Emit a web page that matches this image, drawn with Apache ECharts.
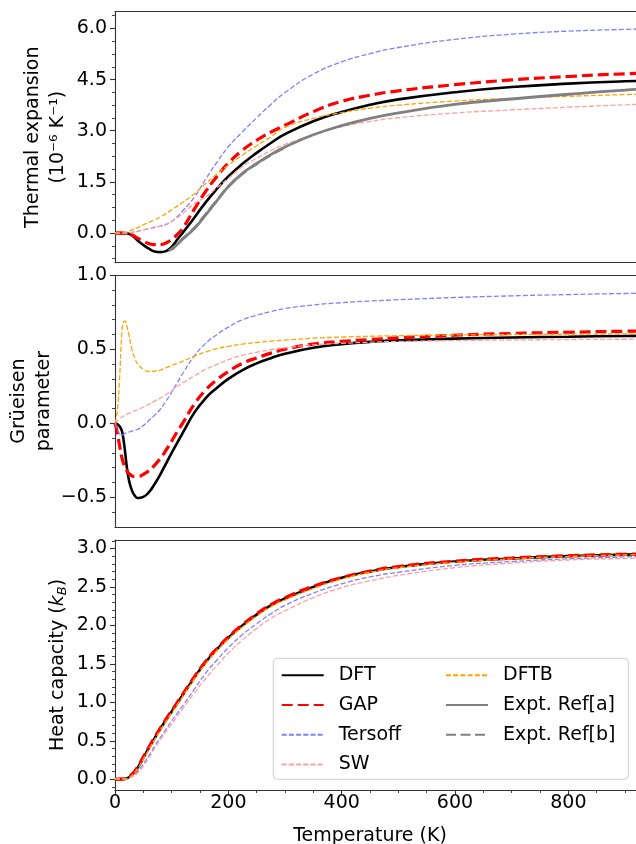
<!DOCTYPE html>
<html><head><meta charset="utf-8">
<script src="https://cdn.jsdelivr.net/npm/echarts@6/dist/echarts.min.js"></script>
<style>html,body{margin:0;padding:0;background:#fff}#c{width:636px;height:844px}</style>
</head><body><div id="c"></div>
<script>
// ---------- data ----------
const T_main = [0,10,20,30,40,50,60,70,80,90,100,110,120,140,160,180,200,225,250,275,300,350,400,450,500,600,700,800,900,1000];
const T_mid  = [0,4,8,12,15,18,21,25,30,35,40,50,60,70,80,90,100,110,120,140,160,180,200,225,250,275,300,350,400,450,500,600,700,800,900,1000];
const T_refA = [100,110,120,140,160,180,200,225,250,275,300,350,400,450,500,600,700,800,900,1000];
const T_refB = [95,100,110,120,140,160,180,200,225,250,275,300];

// thermal expansion (1e-6 / K)
const te_DFT     = [0,0,-0.005,-0.07,-0.22,-0.35,-0.46,-0.54,-0.56,-0.53,-0.41,-0.19,0.02,0.45,0.90,1.30,1.66,2.03,2.35,2.64,2.90,3.28,3.55,3.76,3.92,4.13,4.28,4.38,4.45,4.50];
const te_GAP     = [0,0,-0.01,-0.06,-0.15,-0.24,-0.31,-0.34,-0.34,-0.29,-0.19,-0.04,0.15,0.70,1.22,1.66,2.05,2.43,2.72,2.96,3.16,3.56,3.86,4.04,4.17,4.35,4.49,4.59,4.67,4.73];
const te_Tersoff = [0,0,0,0.02,0.05,0.10,0.13,0.17,0.20,0.25,0.34,0.48,0.66,1.05,1.58,2.08,2.53,2.97,3.38,3.77,4.12,4.66,5.02,5.26,5.44,5.68,5.83,5.92,5.97,6.00];
const te_SW      = [0,0,0,0.02,0.05,0.09,0.12,0.16,0.20,0.26,0.34,0.45,0.58,0.86,1.06,1.33,1.60,1.95,2.19,2.42,2.60,2.88,3.12,3.27,3.38,3.52,3.61,3.69,3.76,3.81];
const te_DFTB    = [0,0,0.03,0.09,0.16,0.24,0.31,0.39,0.47,0.57,0.68,0.79,0.90,1.15,1.45,1.73,1.99,2.29,2.56,2.82,3.10,3.36,3.53,3.66,3.75,3.87,3.95,4.01,4.06,4.10];
const te_RefA    = [-0.49,-0.33,-0.17,0.13,0.53,0.95,1.36,1.75,2.04,2.30,2.52,2.88,3.15,3.36,3.52,3.77,3.93,4.07,4.19,4.28];
const te_RefB    = [-0.52,-0.46,-0.32,-0.16,0.15,0.55,0.96,1.36,1.74,2.03,2.29,2.51];

// Grüneisen parameter
const gr_DFT     = [0,-0.005,-0.02,-0.05,-0.11,-0.2,-0.3,-0.39,-0.455,-0.49,-0.505,-0.497,-0.465,-0.41,-0.345,-0.272,-0.2,-0.13,-0.062,0.072,0.17,0.24,0.3,0.36,0.405,0.44,0.47,0.51,0.535,0.55,0.56,0.572,0.58,0.585,0.59,0.592];
const gr_GAP     = [0,-0.06,-0.15,-0.23,-0.27,-0.3,-0.32,-0.34,-0.355,-0.36,-0.36,-0.345,-0.32,-0.283,-0.237,-0.182,-0.12,-0.055,0.005,0.13,0.225,0.295,0.35,0.405,0.442,0.474,0.5,0.535,0.553,0.566,0.577,0.595,0.607,0.615,0.622,0.627];
const gr_Tersoff = [0,-0.04,-0.07,-0.08,-0.075,-0.068,-0.062,-0.058,-0.053,-0.047,-0.04,-0.015,0.02,0.055,0.095,0.15,0.21,0.275,0.34,0.455,0.54,0.6,0.65,0.7,0.73,0.755,0.775,0.8,0.815,0.826,0.835,0.85,0.861,0.87,0.877,0.882];
const gr_SW      = [0,0.015,0.03,0.04,0.048,0.055,0.062,0.068,0.077,0.085,0.092,0.11,0.13,0.15,0.17,0.195,0.22,0.25,0.275,0.32,0.365,0.398,0.43,0.46,0.48,0.497,0.51,0.53,0.54,0.548,0.553,0.559,0.563,0.566,0.568,0.57];
const gr_DFTB    = [0,0.08,0.3,0.6,0.685,0.69,0.655,0.59,0.5,0.44,0.4,0.365,0.35,0.352,0.36,0.375,0.39,0.405,0.42,0.452,0.482,0.505,0.52,0.535,0.546,0.555,0.562,0.575,0.583,0.588,0.592,0.597,0.6,0.602,0.604,0.605];

// heat capacity (k_B)
const cv_DFT     = [0,0.001,0.01,0.06,0.15,0.28,0.41,0.535,0.655,0.77,0.88,0.99,1.1,1.32,1.52,1.69,1.84,2.0,2.14,2.26,2.35,2.5,2.62,2.7,2.76,2.83,2.87,2.9,2.92,2.935];
const cv_GAP     = [0,0.001,0.012,0.065,0.16,0.29,0.42,0.545,0.665,0.78,0.89,1.0,1.11,1.33,1.53,1.7,1.85,2.01,2.15,2.27,2.36,2.51,2.62,2.705,2.765,2.835,2.875,2.905,2.925,2.94];
const cv_Tersoff = [0,0,0.005,0.04,0.1,0.2,0.31,0.43,0.54,0.65,0.76,0.86,0.96,1.17,1.38,1.55,1.71,1.88,2.02,2.15,2.26,2.42,2.54,2.63,2.69,2.78,2.83,2.865,2.89,2.91];
const cv_SW      = [0,0,0.004,0.03,0.08,0.17,0.28,0.4,0.51,0.62,0.72,0.82,0.92,1.12,1.31,1.48,1.64,1.81,1.96,2.09,2.19,2.36,2.49,2.58,2.65,2.75,2.81,2.85,2.87,2.89];
const cv_DFTB    = [0,0.001,0.008,0.05,0.14,0.26,0.39,0.515,0.635,0.75,0.86,0.97,1.08,1.3,1.5,1.67,1.82,1.98,2.12,2.24,2.33,2.48,2.6,2.69,2.75,2.82,2.865,2.895,2.915,2.93];

// ticks
const xTicks   = [0,200,400,600,800];
const yTicksTE = [0,1.5,3,4.5,6];
const yTicksGR = [-0.5,0,0.5,1.0];
const yTicksCV = [0,0.5,1,1.5,2,2.5,3];

// ---------- chart ----------
const FONT = 'DejaVu Sans';
const AX = '#333333';
const zip = (xs, ys) => xs.map((x, i) => [x, ys[i]]);
const minor = (lo, hi, step, majors) => {
  const out = [];
  for (let v = Math.ceil(lo / step - 1e-9) * step; v <= hi + 1e-9; v += step) {
    const r = Math.round(v * 1000) / 1000;
    if (!majors.some(m => Math.abs(m - r) < 1e-6)) out.push(r);
  }
  return out;
};
const fmt = v => (v < 0 ? '\u2212' : '') + Math.abs(v).toFixed(1);

const styles = {
  'DFT':          {color:'#000000', width:2.6, type:'solid'},
  'GAP':          {color:'#ff0000', width:3.2, type:[11,5]},
  'Tersoff':      {color:'#8080ff', width:1.3, type:[5,2.2]},
  'SW':           {color:'#ffa0a0', width:1.3, type:[5,2.2]},
  'DFTB':         {color:'#ffa500', width:1.3, type:[5,2.2]},
  'Expt. Ref[a]': {color:'#808080', width:2.8, type:'solid'},
  'Expt. Ref[b]': {color:'#808080', width:2.8, type:[10,4.5]}
};

const ranges = [[-0.87, 6.49], [-0.7, 1.0], [-0.14, 3.11]];
const majors = [yTicksTE, yTicksGR, yTicksCV];
const minors = [
  minor(-0.87, 6.49, 0.375, yTicksTE),
  minor(-0.69, 1.0, 0.1, yTicksGR),
  minor(-0.14, 3.11, 0.1, yTicksCV)
];
const names = ['Thermal expansion\n(10\u207B\u2076 K\u207B\u00B9)', 'Gr\u00FCeisen\nparameter', 'Heat capacity ({i|k}{s|B})'];
const nameGaps = [44, 58, 44];

// x scale: 0.5667 px per K; visible part ends at the canvas edge
const X_MAX = 919.4;
const grids = [
  {left:115, right:0, top:11.7, height:251},
  {left:115, right:0, top:275.3, height:251.6},
  {left:115, right:0, top:540, height:250}
].map(g => Object.assign(g, {show:false, containLabel:false, outerBoundsMode:'none'}));

const spine = {show:true, onZero:false, lineStyle:{color:AX, width:1.1}};
const xAxis = [0,1,2].map(i => ({
  type:'value', gridIndex:i, min:0, max:X_MAX, position:'bottom',
  axisLine:spine,
  splitLine:{show:false},
  axisTick: i === 2 ? {show:true, length:5, customValues:xTicks, lineStyle:{color:AX, width:1.1}} : {show:false},
  axisLabel: i === 2 ? {show:true, fontSize:19, fontFamily:FONT, color:'#000', margin:4, customValues:xTicks} : {show:false}
}));
// minor x ticks on the bottom panel
xAxis.push({
  type:'value', gridIndex:2, min:0, max:X_MAX, interval:50, position:'bottom',
  axisLine:{show:false, onZero:false}, splitLine:{show:false}, axisLabel:{show:false},
  axisTick:{show:true, length:3, lineStyle:{color:AX, width:0.9}}
});
// top spines
[0,1,2].forEach(i => xAxis.push({
  type:'value', gridIndex:i, min:0, max:X_MAX, position:'top',
  axisLine:spine, splitLine:{show:false}, axisLabel:{show:false}, axisTick:{show:false}
}));

const yAxis = [];
[0,1,2].forEach(i => {
  yAxis.push({
    type:'value', gridIndex:i, min:ranges[i][0], max:ranges[i][1], position:'left',
    axisLine:spine, splitLine:{show:false},
    axisTick:{show:true, customValues:majors[i], length:5, lineStyle:{color:AX, width:1.1}},
    axisLabel:{show:true, customValues:majors[i], formatter:fmt, fontSize:19, fontFamily:FONT, color:'#000', margin:8},
    name:names[i], nameLocation:'middle', nameGap:nameGaps[i], nameMoveOverlap:false,
    nameTextStyle:{fontSize:19, fontFamily:FONT, color:'#000', lineHeight:25,
      rich:{i:{fontSize:19, fontFamily:FONT, fontStyle:'italic', color:'#000'},
            s:{fontSize:13, fontFamily:FONT, fontStyle:'italic', color:'#000', padding:[9,0,0,0]}}}
  });
});
[0,1,2].forEach(i => {
  yAxis.push({
    type:'value', gridIndex:i, min:ranges[i][0], max:ranges[i][1], position:'left',
    axisLine:{show:false, onZero:false}, splitLine:{show:false}, axisLabel:{show:false},
    axisTick:{show:true, customValues:minors[i], length:3, lineStyle:{color:AX, width:0.9}}
  });
});

const mk = (name, panel, xs, ys) => ({
  type:'line', name, xAxisIndex:panel, yAxisIndex:panel,
  data: zip(xs, ys), symbol:'none', showSymbol:false,
  smooth:0.5, clip:true,
  color: styles[name].color,
  lineStyle:{color:styles[name].color, width:styles[name].width, type:styles[name].type},
  emphasis:{disabled:true}, silent:true
});

const series = [
  mk('DFT', 0, T_main, te_DFT),
  mk('GAP', 0, T_main, te_GAP),
  mk('Tersoff', 0, T_main, te_Tersoff),
  mk('SW', 0, T_main, te_SW),
  mk('DFTB', 0, T_main, te_DFTB),
  mk('Expt. Ref[a]', 0, T_refA, te_RefA),
  mk('Expt. Ref[b]', 0, T_refB, te_RefB),
  mk('DFT', 1, T_mid, gr_DFT),
  mk('GAP', 1, T_mid, gr_GAP),
  mk('Tersoff', 1, T_mid, gr_Tersoff),
  mk('SW', 1, T_mid, gr_SW),
  mk('DFTB', 1, T_mid, gr_DFTB),
  mk('DFT', 2, T_main, cv_DFT),
  mk('GAP', 2, T_main, cv_GAP),
  mk('Tersoff', 2, T_main, cv_Tersoff),
  mk('SW', 2, T_main, cv_SW),
  mk('DFTB', 2, T_main, cv_DFTB)
];

const legendBase = {
  orient:'vertical', top:665.3, itemWidth:42, itemHeight:20, itemGap:9.7, padding:0,
  selectedMode:false, z:5, itemStyle:{opacity:0},
  textStyle:{fontSize:19, fontFamily:FONT, color:'#000', lineHeight:20, padding:[0,0,0,10]}
};

const option = {
  animation:false,
  backgroundColor:'#ffffff',
  grid: grids, xAxis, yAxis, series,
  legend:[
    Object.assign({}, legendBase, {left:280.7, data:['DFT','GAP','Tersoff','SW']}),
    Object.assign({}, legendBase, {left:445, data:['DFTB','Expt. Ref[a]','Expt. Ref[b]']})
  ],
  graphic:[
    {type:'rect', z:4, shape:{x:273.3, y:658.3, width:355, height:121, r:4},
     style:{fill:'rgba(255,255,255,0.8)', stroke:'#cccccc', lineWidth:1}},
    {type:'text', z:4, x:370, y:836,
     style:{text:'Temperature (K)', font:'19px "DejaVu Sans"', fill:'#000', align:'center', verticalAlign:'middle'}}
  ]
};
const chart = echarts.init(document.getElementById('c'));
chart.setOption(option);
</script>
</body></html>
